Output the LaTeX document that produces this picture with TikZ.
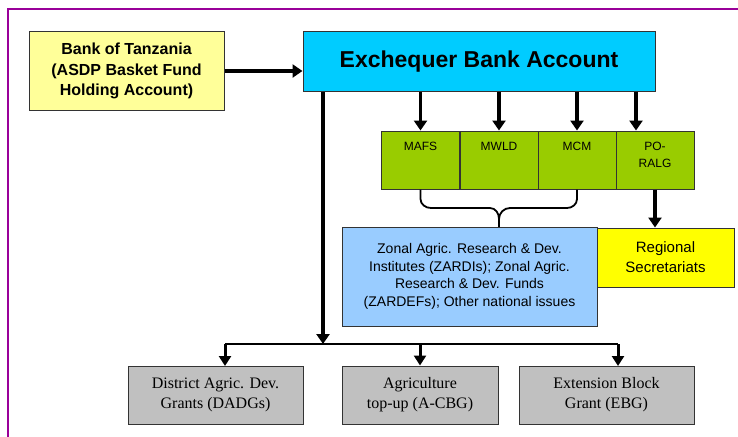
\documentclass[tikz,border=0pt]{standalone}
\usepackage{fontspec}
\setmainfont{Liberation Sans}
\newfontfamily\serifface{Liberation Serif}
\usetikzlibrary{arrows.meta}
\definecolor{frame}{HTML}{990099}
\definecolor{lightyel}{HTML}{FFFF99}
\definecolor{cyanbox}{HTML}{00CCFF}
\definecolor{greenbox}{HTML}{99CC00}
\definecolor{bluebox}{HTML}{99CCFF}
\definecolor{yelbox}{HTML}{FFFF00}
\definecolor{greybox}{HTML}{C0C0C0}
\tikzset{
  box/.style={draw=black!80, line width=1pt, rectangle, inner sep=0pt, align=center},
  conn/.style={line width=3.5pt, -{Triangle[width=13pt,length=10pt]}},
  busline/.style={line width=2.4pt},
  busarrow/.style={line width=3pt, -{Triangle[width=12pt,length=10pt]}},
  bracestyle/.style={line width=1.8pt},
}
\begin{document}
\begin{tikzpicture}[x=1pt,y=-1pt]
\useasboundingbox (0,0) rectangle (738,436);
\fill[white] (0,0) rectangle (738,436);
% frame
\draw[frame, line width=2pt] (8,440) -- (8,9) -- (740,9);
% nodes
\node[box, fill=lightyel, minimum width=195pt, minimum height=78pt, font=\bfseries\fontsize{16}{20.5}\selectfont] (bot) at (126.5,71) {Bank of Tanzania\\(ASDP Basket Fund\\Holding Account)};
\node[box, fill=cyanbox, minimum width=352pt, minimum height=59pt, font=\bfseries\fontsize{23}{26}\selectfont] (exch) at (479,61.5) {Exchequer Bank Account};
\foreach \n/\x/\t in {mafs/420.5/MAFS, mwld/499/MWLD, mcm/577/MCM, poralg/655/{PO-\\RALG}}{
  \node[box, fill=greenbox, minimum width=78pt, minimum height=58pt] (\n) at (\x,160) {};
  \node[anchor=north, align=center, font=\fontsize{12}{17}\selectfont] at ([yshift=-8pt]\n.north) {\t};
}
\node[box, fill=bluebox, minimum width=255pt, minimum height=99pt, font=\fontsize{14}{17.5}\selectfont] (zardi) at (469.5,276.5) {Zonal Agric. Research \& Dev.\\Institutes (ZARDIs); Zonal Agric.\\Research \& Dev. Funds\\(ZARDEFs); Other national issues};
\node[box, fill=yelbox, minimum width=137pt, minimum height=59pt, font=\fontsize{15}{20}\selectfont] (reg) at (665.5,257.5) {Regional\\Secretariats};
\node[box, fill=greybox, minimum width=175pt, minimum height=58pt, font=\serifface\fontsize{16}{20}\selectfont] (dadg) at (215.5,395) {District Agric. Dev.\\Grants (DADGs)};
\node[box, fill=greybox, minimum width=156pt, minimum height=58pt, font=\serifface\fontsize{16}{20}\selectfont] (acbg) at (420,395) {Agriculture\\top-up (A-CBG)};
\node[box, fill=greybox, minimum width=175pt, minimum height=58pt, font=\serifface\fontsize{16}{20}\selectfont] (ebg) at (606.5,395) {Extension Block\\Grant (EBG)};
% connectors
\draw[conn] (bot.east) -- (bot.east -| exch.west);
\foreach \n in {mafs, mwld, mcm}{
  \draw[conn] (exch.south -| \n.north) -- (\n.north);
}
\draw[conn] (exch.south -| 636,0) -- (poralg.north -| 636,0);
\draw[conn] (poralg.south) -- (poralg.south |- reg.north);
% brace
\coordinate (bl) at (mafs.south);
\coordinate (br) at (mcm.south);
\coordinate (btip) at (mwld.south |- 0,219);
\draw[bracestyle] (bl) -- (420.5,199) to[out=-90,in=180] (431,208) -- (490,208)
  to[out=0,in=90] (btip) to[out=90,in=180] (510,208) -- (567,208) to[out=0,in=-90] (577,199) -- (br);
\draw[bracestyle] (btip) -- (btip |- zardi.north);
% bus
\coordinate (bus) at (323,344);
\draw[conn] (exch.south -| bus) -- (bus);
\draw[busline] (225,344) -- (618,344);
\draw[busarrow] (225,344) -- (225,366);
\draw[busarrow] (acbg.north |- bus) -- (acbg.north);
\draw[busarrow] (618,344) -- (618,366);
\end{tikzpicture}
\end{document}
